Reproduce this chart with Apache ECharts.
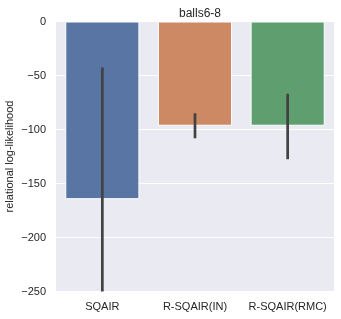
<!DOCTYPE html>
<html>
<head>
<meta charset="utf-8">
<script src="https://cdn.jsdelivr.net/npm/echarts@6/dist/echarts.min.js"></script>
<style>html,body{margin:0;padding:0;background:#fff}#c{width:341px;height:319px}</style>
</head>
<body>
<div id="c"></div>
<script>
var categories = ['SQAIR', 'R-SQAIR(IN)', 'R-SQAIR(RMC)'];
var values = [-164.5, -96.5, -96.5];
var ciLow = [-262, -108, -127.5];
var ciHigh = [-42.5, -85, -67];
var yTicks = [-250, -200, -150, -100, -50, 0];
var colors = ['#5875a4', '#cc8963', '#5f9e6e'];

var chart = echarts.init(document.getElementById('c'), null, {renderer: 'canvas'});
var font = '"Liberation Sans", Arial, sans-serif';
chart.setOption({
  animation: false,
  backgroundColor: '#ffffff',
  title: {
    text: 'balls6-8', left: 195, top: 3, textAlign: 'center',
    textStyle: {fontFamily: font, fontSize: 12, fontWeight: 'normal', color: '#262626'}
  },
  grid: {left: 56, right: 7, top: 21.5, bottom: 27.5, show: true, backgroundColor: '#EAEAF2', borderWidth: 0,
    containLabel: false, outerBoundsMode: 'none'},
  xAxis: {
    type: 'category', data: categories,
    axisLine: {show: false, onZero: false}, axisTick: {show: false}, splitLine: {show: false},
    axisLabel: {fontFamily: font, fontSize: 11, color: '#262626', margin: 10, interval: 0}
  },
  yAxis: {
    type: 'value', min: yTicks[0], max: yTicks[yTicks.length - 1], interval: 50,
    name: 'relational log-likelihood', nameLocation: 'middle', nameGap: 41, nameMoveOverlap: false,
    nameTextStyle: {fontFamily: font, fontSize: 11, color: '#262626'},
    axisLine: {show: false}, axisTick: {show: false},
    splitLine: {show: true, lineStyle: {color: '#ffffff', width: 1}},
    axisLabel: {fontFamily: font, fontSize: 11, color: '#262626', margin: 10,
      formatter: function (v) { return String(v).replace('-', '\u2212'); }}
  },
  series: [
    {
      type: 'bar', barCategoryGap: '20%',
      data: values.map(function (v, i) { return {value: v, itemStyle: {color: colors[i]}}; }),
      itemStyle: {borderColor: '#ffffff', borderWidth: 1}
    },
    {
      type: 'custom', clip: true, z: 5,
      data: categories.map(function (c, i) { return [i, ciLow[i], ciHigh[i]]; }),
      renderItem: function (params, api) {
        var p1 = api.coord([api.value(0), api.value(1)]);
        var p2 = api.coord([api.value(0), api.value(2)]);
        return {type: 'line', shape: {x1: p1[0], y1: p1[1], x2: p2[0], y2: p2[1]},
          style: {stroke: '#424242', lineWidth: 2.7}};
      }
    }
  ]
});
</script>
</body>
</html>
